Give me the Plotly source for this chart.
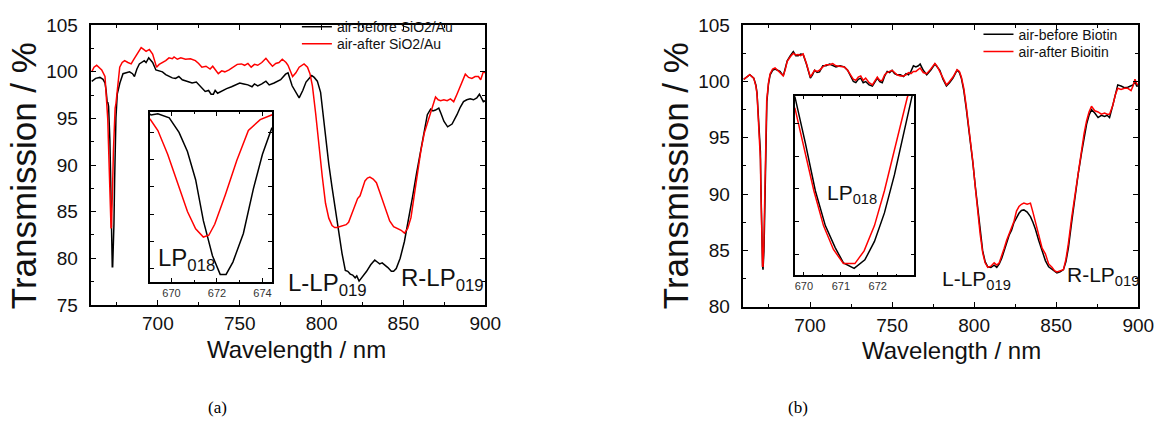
import plotly.graph_objects as go

# ---------------- panel (a): SiO2/Au ----------------
wl_a_before = [659.6, 662.0, 664.6, 666.5, 667.7, 668.4,
               669.1, 669.4, 669.9, 670.33, 670.7, 671.06, 671.4, 671.8, 672.14, 672.4, 672.7, 673.16, 673.6, 674.0, 674.4,
               675.2, 676.8, 678.7, 680.7, 682.7, 684.5, 685.7, 687.2, 688.7, 691.7, 692.8, 694.4, 696.8, 698.8,
               700.8, 702.8, 704.8, 706.8, 708.8, 710.8, 712.8, 714.9, 717.9, 720.9, 723.5, 725.9, 728.9, 731.0,
               732.5, 733.9, 735.0, 736.5, 739.0, 742.0, 745.0, 747.5, 750.0, 752.5, 755.0, 757.5, 759.0, 761.0,
               763.5, 766.0, 768.0, 771.0, 773.0, 775.0, 778.0, 779.5, 782.0, 784.3, 786.3, 788.5, 790.5, 792.5,
               794.0, 795.5, 797.4, 799.4, 800.9, 802.4, 804.4, 806.4, 808.4, 810.4, 812.5, 814.5, 816.0, 817.5,
               819.0, 820.5, 821.5, 822.9, 825.0, 827.5, 830.0, 832.5, 834.0, 835.5, 837.0, 838.6, 840.5, 842.6,
               844.0, 845.6, 848.0, 850.6, 853.0, 855.6, 858.0, 860.6, 862.6, 864.6, 866.6, 868.0, 869.6, 871.6,
               873.0, 874.7, 877.0, 879.7, 882.7, 884.7, 886.7, 888.7, 890.8, 892.8, 894.8, 896.4, 897.6, 898.8, 900.0]
t_a_before = [98.98, 99.3, 99.4, 99.2, 98.8, 98.0,
              96.6, 96.75, 96.3, 94.7, 92.6, 89.5, 85.0, 81.15, 79.1, 79.1, 80.45, 83.6, 88.5, 92.3, 95.1,
              97.6, 98.8, 99.8, 99.9, 100.0, 99.8, 99.5, 100.3, 100.85, 101.2, 101.0, 101.5, 101.0, 100.2,
              100.1, 100.0, 99.7, 99.5, 99.35, 99.3, 99.5, 99.15, 99.0, 98.8, 98.9, 98.5, 97.9, 98.0,
              97.6, 97.6, 98.0, 97.7, 97.95, 98.2, 98.4, 98.6, 98.8, 98.7, 98.6, 98.4, 98.7, 98.5,
              98.7, 99.0, 98.6, 98.8, 99.0, 99.15, 99.75, 99.9, 98.5, 97.8, 97.2, 98.0, 98.9, 99.3,
              99.6, 99.4, 99.0, 97.8, 95.5, 92.7, 90.1, 87.6, 85.2, 82.8, 80.5, 78.7, 78.6, 78.3,
              78.2, 77.9, 78.1, 77.55, 78.0, 78.6, 79.3, 79.8, 79.6, 79.4, 79.5, 79.3, 79.0, 78.6,
              78.6, 78.9, 80.0, 81.8, 84.0, 86.6, 89.1, 91.7, 93.7, 95.4, 96.0, 95.8, 95.9, 96.1,
              95.5, 94.7, 94.1, 94.4, 95.4, 96.2, 96.8, 97.0, 97.1, 97.0, 97.2, 97.6, 97.2, 96.8, 96.9]

wl_a_after = [659.6, 661.0, 662.6, 664.0, 665.7, 667.7, 668.4,
              669.07, 669.4, 669.83, 670.26, 670.7, 671.06, 671.4, 671.64, 671.9, 672.36, 672.87, 673.38, 673.9, 674.4,
              675.5, 676.7, 678.2, 679.7, 681.7, 683.7, 685.2, 686.7, 688.3, 689.8, 691.3, 692.8, 694.8, 696.8,
              698.0, 699.2, 700.8, 702.8, 704.8, 706.8, 708.8, 709.9, 711.9, 714.0, 716.9, 719.9, 722.9, 724.9,
              726.9, 729.4, 731.9, 733.5, 736.9, 739.0, 740.9, 743.5, 746.0, 748.5, 751.0, 753.0, 755.0, 757.0,
              759.0, 761.0, 763.5, 766.0, 768.0, 770.0, 772.0, 774.0, 776.0, 778.3, 779.5, 782.3, 784.3, 786.3,
              789.3, 791.4, 792.9, 794.4, 796.4, 798.4, 800.4, 802.4, 804.4, 806.4, 808.0, 809.4, 811.4, 813.4,
              815.0, 816.5, 818.5, 820.5, 822.0, 823.5, 825.0, 826.5, 828.0, 829.5, 831.5, 833.5, 835.5, 837.5,
              839.6, 841.6, 844.0, 846.6, 848.6, 850.6, 852.6, 854.6, 856.6, 858.6, 860.6, 862.7, 864.7, 866.6,
              868.1, 869.6, 871.2, 872.7, 874.7, 876.7, 878.7, 880.7, 882.7, 884.2, 885.7, 887.8, 889.8, 891.8,
              893.8, 895.8, 897.2, 898.8, 900.0]
t_a_after = [100.0, 100.5, 100.7, 100.5, 100.2, 99.5, 97.8,
             96.1, 94.9, 92.3, 89.2, 86.0, 84.1, 83.2, 83.4, 84.6, 87.8, 91.6, 94.9, 96.1, 96.6,
             98.6, 100.5, 101.0, 101.2, 101.0, 100.85, 101.3, 101.7, 102.2, 102.6, 102.4, 102.2, 102.4, 101.9,
             101.2, 100.5, 100.8, 101.0, 101.2, 101.5, 101.4, 101.6, 101.35, 101.5, 101.35, 101.4, 101.2, 100.9,
             100.5, 100.6, 100.3, 100.6, 99.8, 100.1, 100.0, 100.2, 100.5, 100.8, 100.85, 100.7, 100.9, 100.5,
             100.8, 100.7, 101.0, 101.45, 101.0, 100.6, 100.9, 101.0, 101.35, 101.0, 100.7, 99.5, 99.9, 100.5,
             100.85, 100.5, 99.8, 98.5, 95.5, 92.0, 88.8, 85.9, 84.3, 83.5, 83.3, 83.3, 83.4, 83.5,
             83.6, 83.85, 84.8, 85.9, 86.4, 86.7, 87.5, 88.3, 88.6, 88.7, 88.5, 88.1, 87.1, 86.05,
             85.0, 84.0, 83.4, 83.2, 83.0, 82.7, 83.2, 84.35, 86.8, 89.3, 91.5, 93.4, 94.5, 95.4,
             96.4, 97.3, 97.0, 96.9, 97.0, 96.9, 97.1, 96.8, 97.6, 98.2, 98.8, 99.75, 99.4, 99.3,
             99.5, 99.5, 99.15, 100.0, 99.9]

# ---------------- panel (b): Biotin ----------------
wl_b_before = [659.6, 661.5, 663.3, 665.7, 667.0, 667.7,
               669.76, 670.04, 670.31, 670.58, 670.85, 671.07, 671.36, 671.65, 671.91, 672.18, 672.45, 672.71, 672.93,
               673.7, 674.7, 675.7, 677.2, 678.7, 680.2, 681.7, 683.7, 685.0, 686.1, 688.0, 689.8, 691.3, 692.8,
               694.3, 695.8, 697.8, 699.0, 700.2, 701.5, 702.8, 704.3, 705.8, 707.8, 709.8, 711.9, 713.8, 715.8,
               718.3, 720.9, 722.9, 724.9, 726.4, 727.9, 729.4, 730.9, 732.4, 733.9, 736.0, 738.0, 739.5, 741.0,
               742.5, 744.0, 745.5, 747.0, 748.5, 750.0, 751.5, 753.0, 755.0, 757.0, 758.5, 760.0, 761.5, 763.0,
               764.5, 766.0, 767.1, 769.0, 771.1, 773.5, 776.1, 777.5, 779.1, 781.0, 783.1, 785.0, 787.1, 789.6,
               791.0, 792.2, 793.7, 795.2, 797.2, 799.2, 800.7, 802.2, 803.7, 805.2, 806.7, 808.3, 810.2, 812.2,
               813.8, 815.3, 816.8, 818.3, 819.8, 821.3, 822.8, 824.3, 825.8, 827.3, 828.8, 830.3, 832.3, 834.3,
               835.8, 837.3, 839.3, 841.4, 843.4, 845.4, 847.4, 849.0, 850.4, 852.4, 854.4, 855.9, 857.4, 859.4,
               861.4, 863.4, 865.5, 867.0, 868.5, 870.0, 871.5, 873.5, 875.5, 877.5, 879.5, 881.0, 882.5, 884.5,
               886.0, 887.5, 889.5, 891.6, 893.6, 895.6, 896.8, 898.0, 899.0, 900.0]
t_b_before = [100.2, 100.4, 100.6, 100.3, 99.7, 99.0,
              93.79, 90.98, 88.06, 85.92, 84.56, 83.63, 83.3, 83.82, 84.95, 86.7, 89.03, 91.75, 93.89,
              98.2, 99.8, 100.6, 101.0, 101.1, 101.0, 100.9, 100.5, 101.2, 101.85, 102.3, 102.65, 102.3, 102.3,
              102.45, 102.4, 101.55, 100.8, 100.3, 100.6, 101.0, 100.8, 100.85, 101.4, 101.4, 101.55, 101.4, 101.3,
              101.4, 101.3, 101.0, 100.45, 100.0, 99.9, 100.2, 100.3, 99.9, 100.0, 99.7, 99.6, 99.9, 100.3,
              100.0, 99.9, 100.5, 100.9, 100.8, 101.0, 100.7, 100.6, 100.6, 100.45, 100.7, 100.6, 100.9, 101.4,
              101.3, 101.4, 101.55, 101.0, 100.6, 101.0, 101.55, 101.3, 101.0, 100.2, 99.6, 99.9, 100.3, 101.0,
              100.8, 100.3, 99.2, 97.6, 95.3, 92.8, 90.7, 88.6, 86.6, 84.96, 84.0, 83.55, 83.5, 83.7,
              83.5, 83.8, 84.3, 84.96, 85.7, 86.35, 86.8, 87.5, 87.9, 88.3, 88.55, 88.6, 88.4, 88.0,
              87.5, 86.9, 85.9, 84.96, 84.1, 83.55, 83.3, 83.1, 83.0, 83.1, 83.3, 84.0, 85.2, 87.5,
              89.7, 91.8, 93.7, 95.1, 96.2, 97.0, 97.5, 97.2, 96.8, 97.0, 96.9, 97.0, 96.8, 97.9,
              98.8, 99.7, 99.6, 99.45, 99.5, 99.6, 99.7, 100.0, 99.6, 99.6]

wl_b_after = [659.6, 661.5, 663.3, 665.7, 667.0, 667.7,
              669.76, 670.0, 670.27, 670.53, 670.8, 671.07, 671.38, 671.63, 671.91, 672.18, 672.49, 672.8,
              673.6, 674.7, 675.7, 677.2, 678.7, 680.2, 681.7, 683.7, 685.0, 686.1, 688.0, 689.8, 691.3, 692.8,
              694.3, 695.8, 697.8, 699.0, 700.2, 701.5, 702.8, 704.3, 705.8, 707.8, 709.8, 711.9, 713.8, 715.8,
              718.3, 720.9, 722.9, 724.9, 726.4, 727.9, 729.4, 730.9, 732.4, 733.9, 736.0, 738.0, 739.5, 741.0,
              742.5, 744.0, 745.5, 747.0, 748.5, 750.0, 751.5, 753.0, 755.0, 757.0, 758.5, 760.0, 761.5, 763.0,
              764.5, 766.0, 767.1, 769.0, 771.1, 773.5, 776.1, 777.5, 779.1, 781.0, 783.1, 785.0, 787.1, 789.6,
              791.0, 792.2, 793.7, 795.2, 797.2, 799.2, 800.7, 802.2, 803.7, 805.2, 806.7, 808.3, 810.2, 812.2,
              813.8, 815.3, 816.8, 818.3, 819.8, 821.3, 822.8, 824.3, 825.8, 827.3, 828.8, 830.3, 832.3, 834.3,
              835.8, 837.3, 839.3, 841.4, 843.4, 845.4, 847.4, 849.0, 850.4, 852.4, 854.4, 855.9, 857.4, 859.4,
              861.4, 863.4, 865.5, 867.0, 868.5, 870.0, 871.5, 873.5, 875.5, 877.5, 879.5, 881.0, 882.5, 884.5,
              886.0, 887.5, 889.5, 891.6, 893.6, 895.6, 896.8, 898.0, 899.0, 900.0]
t_b_after = [100.2, 100.4, 100.6, 100.3, 99.6, 98.9,
             93.1, 90.78, 88.06, 85.92, 84.46, 83.59, 83.59, 84.37, 85.92, 88.06, 90.98, 93.79,
             98.3, 99.9, 100.7, 101.1, 101.2, 101.0, 100.8, 100.5, 101.1, 101.8, 102.2, 102.5, 102.35, 102.4,
             102.3, 102.45, 101.6, 100.9, 100.4, 100.7, 101.0, 100.9, 101.0, 101.3, 101.5, 101.5, 101.6, 101.4,
             101.35, 101.3, 101.0, 100.6, 100.2, 100.1, 100.4, 100.5, 100.1, 100.3, 99.9, 99.7, 100.1, 100.4,
             100.1, 100.1, 100.6, 100.8, 100.9, 101.0, 100.8, 100.6, 100.5, 100.5, 100.6, 100.8, 100.7, 100.9,
             100.9, 101.1, 101.2, 100.8, 100.7, 101.1, 101.6, 101.35, 100.9, 100.3, 99.7, 100.0, 100.4, 101.05,
             100.9, 100.4, 99.4, 97.8, 95.4, 92.9, 90.6, 88.4, 86.4, 84.8, 83.9, 83.5, 83.6, 83.9,
             83.7, 83.9, 84.5, 85.2, 85.9, 86.5, 87.1, 87.6, 88.5, 88.9, 89.1, 89.2, 89.1, 89.2,
             88.4, 87.5, 86.3, 85.2, 84.7, 83.8, 83.5, 83.2, 83.1, 83.2, 83.3, 84.2, 85.6, 87.9,
             90.0, 92.0, 93.9, 95.4, 96.5, 97.3, 97.8, 97.4, 97.3, 97.1, 97.2, 97.1, 97.1, 97.9,
             98.8, 99.4, 99.3, 99.4, 99.4, 99.2, 99.6, 100.2, 99.8, 99.7]

# axis settings
main_x_range = [659, 900]
main_x_ticks = [700, 750, 800, 850, 900]
a_y_range = [75, 105]
b_y_range = [80, 105]
y_ticks_a = [75, 80, 85, 90, 95, 100, 105]
y_ticks_b = [80, 85, 90, 95, 100, 105]
inset_a_x_range = [669.05, 674.43]
inset_a_y_range = [78.26, 96.96]
inset_b_x_range = [669.76, 672.99]
inset_b_y_range = [82.87, 93.89]

W, H = 1174, 430
BLACK = "#000000"
RED = "#ff0000"
SANS = "Liberation Sans, Arial, sans-serif"
SERIF = "Liberation Serif, Times New Roman, serif"


def px(x):
    return x / W


def py(y):
    return 1 - y / H


fig = go.Figure()

line_w = 1.5
# panel (a) main
fig.add_trace(go.Scatter(x=wl_a_before, y=t_a_before, mode="lines", line=dict(color=BLACK, width=line_w),
                         name="air-before SiO2/Au", xaxis="x", yaxis="y", legend="legend"))
fig.add_trace(go.Scatter(x=wl_a_after, y=t_a_after, mode="lines", line=dict(color=RED, width=line_w),
                         name="air-after SiO2/Au", xaxis="x", yaxis="y", legend="legend2"))
# panel (a) inset
fig.add_trace(go.Scatter(x=wl_a_before, y=t_a_before, mode="lines", line=dict(color=BLACK, width=line_w),
                         showlegend=False, xaxis="x2", yaxis="y2"))
fig.add_trace(go.Scatter(x=wl_a_after, y=t_a_after, mode="lines", line=dict(color=RED, width=line_w),
                         showlegend=False, xaxis="x2", yaxis="y2"))
# panel (b) main
fig.add_trace(go.Scatter(x=wl_b_before, y=t_b_before, mode="lines", line=dict(color=BLACK, width=line_w),
                         name="air-before Biotin", xaxis="x3", yaxis="y3", legend="legend3"))
fig.add_trace(go.Scatter(x=wl_b_after, y=t_b_after, mode="lines", line=dict(color=RED, width=line_w),
                         name="air-after Bioitin", xaxis="x3", yaxis="y3", legend="legend4"))
# panel (b) inset
fig.add_trace(go.Scatter(x=wl_b_before, y=t_b_before, mode="lines", line=dict(color=BLACK, width=line_w),
                         showlegend=False, xaxis="x4", yaxis="y4"))
fig.add_trace(go.Scatter(x=wl_b_after, y=t_b_after, mode="lines", line=dict(color=RED, width=line_w),
                         showlegend=False, xaxis="x4", yaxis="y4"))

frame = dict(showline=True, linecolor=BLACK, linewidth=2, mirror="ticks", ticks="inside",
             tickcolor=BLACK, tickwidth=1.2, showgrid=False, zeroline=False)
tickfont_main = dict(family=SANS, size=19, color="#111111")
tickfont_inset = dict(family=SANS, size=11, color="#333333")


def main_x(domain, anchor):
    return dict(frame, domain=domain, anchor=anchor, range=main_x_range, tickvals=main_x_ticks,
                ticklen=5, tickfont=tickfont_main, ticklabelstandoff=0,
                minor=dict(ticks="inside", ticklen=3, dtick=25, tick0=700, tickcolor=BLACK))


def main_y(domain, anchor, rng, ticks):
    return dict(frame, domain=domain, anchor=anchor, range=rng, tickvals=ticks,
                ticklen=5, tickfont=tickfont_main, ticklabelstandoff=7,
                minor=dict(ticks="inside", ticklen=3, dtick=2.5, tick0=75, tickcolor=BLACK))


def inset_x(domain, anchor, rng, ticks, minor_step):
    return dict(frame, domain=domain, anchor=anchor, range=rng, tickvals=ticks, linewidth=1.5,
                ticklen=4, tickfont=tickfont_inset,
                minor=dict(ticks="inside", ticklen=2, dtick=minor_step, tickcolor=BLACK))


def inset_y(domain, anchor, rng, t0, dt):
    return dict(frame, domain=domain, anchor=anchor, range=rng, tick0=t0, dtick=dt, linewidth=1.5,
                ticklen=4, showticklabels=False)


def legend_at(x, y):
    return dict(x=px(x), y=py(y), xanchor="left", yanchor="middle", bgcolor="rgba(0,0,0,0)",
                borderwidth=0, font=dict(family=SANS, size=14, color="#111111"))


fig.update_layout(
    width=W, height=H, margin=dict(l=0, r=0, t=0, b=0),
    paper_bgcolor="white", plot_bgcolor="white",
    font=dict(family=SANS, color=BLACK),
    xaxis=main_x([px(92), px(492)], "y"),
    yaxis=main_y([py(310), py(16)], "x", a_y_range, y_ticks_a),
    xaxis2=inset_x([px(152), px(276)], "y2", inset_a_x_range, [670, 672, 674], 1),
    yaxis2=inset_y([py(286), py(107)], "x2", inset_a_y_range, 79.72, 3),
    xaxis3=main_x([px(753), px(1154)], "y3"),
    yaxis3=main_y([py(312), py(16)], "x3", b_y_range, y_ticks_b),
    xaxis4=inset_x([px(806), px(927)], "y4", inset_b_x_range, [670, 671, 672], 0.5),
    yaxis4=inset_y([py(279), py(90)], "x4", inset_b_y_range, 84.17, 2),
    legend=legend_at(301, 18),
    legend2=legend_at(301, 36),
    legend3=legend_at(992, 26),
    legend4=legend_at(992, 44),
)

label_font = dict(family=SANS, size=24, color="#111111")
label_font_b = dict(family=SANS, size=21, color="#111111")
annotations = [
    dict(text="LP<sub>018</sub>", x=px(158), y=py(262), font=label_font),
    dict(text="L-LP<sub>019</sub>", x=px(290), y=py(289), font=label_font),
    dict(text="R-LP<sub>019</sub>", x=px(405), y=py(283), font=label_font),
    dict(text="LP<sub>018</sub>", x=px(836), y=py(193), font=label_font_b),
    dict(text="L-LP<sub>019</sub>", x=px(953), y=py(284), font=label_font_b),
    dict(text="R-LP<sub>019</sub>", x=px(1080), y=py(280), font=label_font_b),
]
for a in annotations:
    a.update(xref="paper", yref="paper", xanchor="left", yanchor="middle", showarrow=False)

# axis titles
ytitle_font = dict(family=SANS, size=35, color="#111111")
xtitle_font = dict(family=SANS, size=24, color="#111111")
for xc, yc in ((24, 174), (685, 174)):
    annotations.append(dict(text="Transmission / %", x=px(xc), y=py(yc), xref="paper", yref="paper",
                            textangle=-90, xanchor="center", yanchor="middle", showarrow=False,
                            font=ytitle_font))
for xc, yc in ((301, 357), (965, 358)):
    annotations.append(dict(text="Wavelength / nm", x=px(xc), y=py(yc), xref="paper", yref="paper",
                            xanchor="center", yanchor="middle", showarrow=False, font=xtitle_font))

# panel captions
for txt, xc in (("(a)", 221), ("(b)", 809)):
    annotations.append(dict(text=txt, x=px(xc), y=py(418), xref="paper", yref="paper",
                            xanchor="center", yanchor="middle", showarrow=False,
                            font=dict(family=SERIF, size=17, color=BLACK)))
fig.update_layout(annotations=annotations)

fig.write_html("out.html")
